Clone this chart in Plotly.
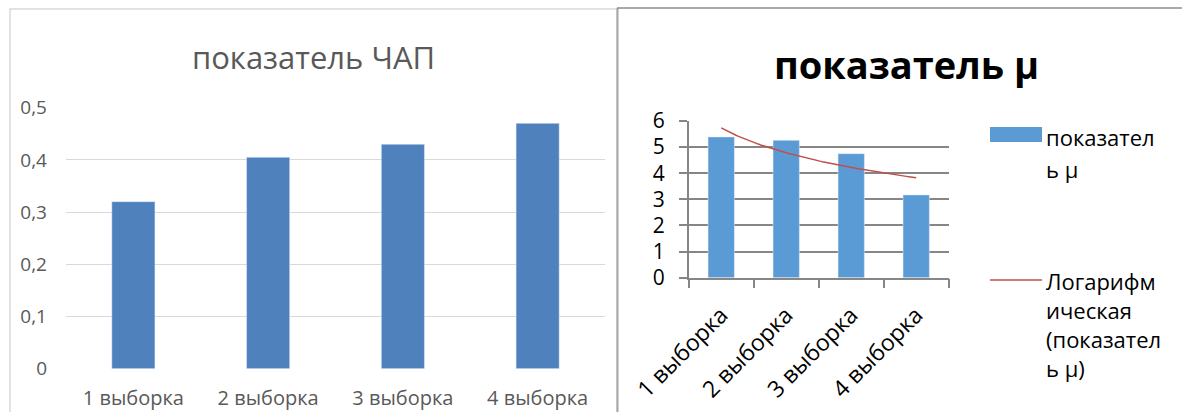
import numpy as np
import plotly.graph_objects as go

W, H = 1182, 412

categories = ["1 выборка", "2 выборка", "3 выборка", "4 выборка"]
chap_values = [0.32, 0.405, 0.43, 0.47]
mu_values = [5.39, 5.26, 4.75, 3.17]
left_ticks = [0, 0.1, 0.2, 0.3, 0.4, 0.5]
right_ticks = [0, 1, 2, 3, 4, 5, 6]

title_left = "показатель ЧАП"
title_right = "показатель μ"
legend_bar = ["показател", "ь μ"]
legend_line = ["Логарифм", "ическая", "(показател", "ь μ)"]


def px(x):
    return x / W


def py(y):
    return 1 - y / H


idx = np.arange(1, len(mu_values) + 1)
b, a = np.polyfit(np.log(idx), np.array(mu_values), 1)
xt = np.linspace(1, len(mu_values), 80)
yt = a + b * np.log(xt)

fig = go.Figure()
fig.add_trace(go.Bar(x=categories, y=chap_values, marker_color="#4f81bd",
                     width=0.32, xaxis="x", yaxis="y", showlegend=False))
fig.add_trace(go.Bar(x=idx, y=mu_values, marker_color="#5b9bd5",
                     width=0.405, xaxis="x2", yaxis="y2", showlegend=False))
fig.add_trace(go.Scatter(x=xt, y=yt, mode="lines", line=dict(color="#c0504d", width=1.5),
                         xaxis="x2", yaxis="y2", showlegend=False))

font_l = "Open Sans"
font_r = "Open Sans"

fig.update_layout(
    width=W, height=H, margin=dict(l=0, r=0, t=0, b=0, pad=0, autoexpand=False),
    paper_bgcolor="white", plot_bgcolor="white", showlegend=False,
    separators=", ",
    xaxis=dict(domain=[px(66), px(605)], type="category", showgrid=False, showline=False,
               ticks="", automargin=False, ticklabelstandoff=15,
               tickfont=dict(family=font_l, size=20, color="#595959"), anchor="y"),
    yaxis=dict(domain=[py(368.7), py(107.7)], range=[0, 0.5], tickvals=left_ticks,
               showgrid=True, gridcolor="#d9d9d9", gridwidth=1, zeroline=False,
               showline=False, ticks="", automargin=False, ticklabelstandoff=18,
               tickfont=dict(family=font_l, size=19, color="#595959"), anchor="x"),
    xaxis2=dict(domain=[px(688.7), px(948.7)], range=[0.5, 4.5], tickvals=list(idx),
                ticktext=categories, tickangle=-45, showgrid=False, showline=True,
                linecolor="#868686", linewidth=1.5, ticks="", automargin=False,
                ticklabelstandoff=13,
                minor=dict(tickvals=[0.5, 1.5, 2.5, 3.5, 4.5], ticks="outside", ticklen=9,
                           tickcolor="#868686", tickwidth=1.5, showgrid=False),
                tickfont=dict(family=font_r, size=23, color="black"), anchor="y2"),
    yaxis2=dict(domain=[py(277.7), py(121)], range=[0, 6], tickvals=right_ticks,
                showgrid=True, gridcolor="#868686", gridwidth=1.5, zeroline=False,
                showline=True, linecolor="#868686", linewidth=1.5, ticks="outside",
                ticklen=8, tickcolor="#868686", tickwidth=1.5, automargin=False,
                ticklabelstandoff=10,
                tickfont=dict(family=font_r, size=21, color="black"), anchor="x2"),
)

shapes = [
    dict(type="rect", xref="paper", yref="paper", x0=px(10), x1=px(617), y0=py(9), y1=py(430),
         line=dict(color="#d9d9d9", width=1.5)),
    dict(type="line", xref="paper", yref="paper", x0=px(617.5), x1=px(617.5), y0=py(8), y1=py(412),
         line=dict(color="#a6a6a6", width=2)),
    dict(type="line", xref="paper", yref="paper", x0=px(617), x1=px(1182), y0=py(8), y1=py(8),
         line=dict(color="#8c8c8c", width=1.5)),
    dict(type="rect", xref="paper", yref="paper", x0=px(990), x1=px(1042), y0=py(142), y1=py(127),
         fillcolor="#5b9bd5", line=dict(width=0)),
    dict(type="line", xref="paper", yref="paper", x0=px(990), x1=px(1042), y0=py(280), y1=py(280),
         line=dict(color="#c0504d", width=1.5)),
]

annotations = [
    dict(text=title_left, x=px(313), y=py(57), xref="paper", yref="paper", showarrow=False,
         xanchor="center", yanchor="middle", font=dict(family=font_l, size=31, color="#595959")),
    dict(text="<b>" + title_right + "</b>", x=px(906), y=py(64), xref="paper", yref="paper",
         showarrow=False, xanchor="center", yanchor="middle",
         font=dict(family=font_r, size=38, color="black")),
]
for i, t in enumerate(legend_bar):
    annotations.append(dict(text=t, x=px(1044), y=py(137 + 32 * i), xref="paper", yref="paper",
                            showarrow=False, xanchor="left", yanchor="middle",
                            font=dict(family=font_r, size=22, color="black")))
for i, t in enumerate(legend_line):
    annotations.append(dict(text=t, x=px(1044), y=py(281 + 29 * i), xref="paper", yref="paper",
                            showarrow=False, xanchor="left", yanchor="middle",
                            font=dict(family=font_r, size=22, color="black")))

fig.update_layout(shapes=shapes, annotations=annotations)
fig.write_html("out.html", config={"displayModeBar": False},
               post_script="document.body.style.margin='0';document.body.style.overflow='hidden';")
